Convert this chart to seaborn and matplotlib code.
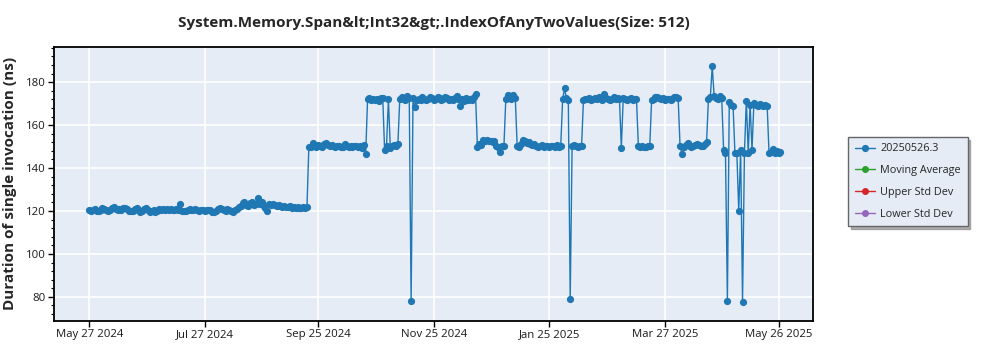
import matplotlib
matplotlib.use("Agg")
import matplotlib.pyplot as plt
import matplotlib.dates as mdates
from matplotlib.ticker import MultipleLocator
import numpy as np
import pandas as pd
import seaborn as sns

TITLE = "System.Memory.Span&lt;Int32&gt;.IndexOfAnyTwoValues(Size: 512)"
Y_LABEL = "Duration of single invocation (ns)"
SERIES_NAMES = ["20250526.3", "Moving Average", "Upper Std Dev", "Lower Std Dev"]
SERIES_COLORS = ["#1f77b4", "#2ca02c", "#d62728", "#9467bd"]

FIRST_RUN = "2024-05-27"
X_TICKS = ["2024-05-27", "2024-07-27", "2024-09-25", "2024-11-25",
           "2025-01-25", "2025-03-27", "2025-05-26"]

# one benchmark result per day (ns), starting at FIRST_RUN
durations = [
    # late May - Sep 2024
    120.3, 120.1, 120.6, 120.9, 120.2, 119.8, 120.4, 121.3, 121.0, 120.5,
    120.2, 120.7, 121.2, 121.7, 120.9, 120.6, 121.1, 120.3, 121.5, 121.4,
    120.8, 120.2, 119.8, 120.1, 120.9, 121.3, 120.6, 119.7, 120.2, 121.0,
    121.2, 120.4, 119.6, 120.0, 120.3, 119.6, 120.2, 120.8, 120.5, 121.0,
    120.6, 120.9, 120.3, 121.0, 120.7, 120.4, 120.9, 120.6, 123.2, 120.2,
    120.0, 119.8, 120.5, 121.0, 120.7, 120.3, 120.9, 120.6, 120.2, 120.5,
    120.3, 119.9, 120.4, 120.7, 120.5, 119.7, 119.4, 120.2, 120.8, 121.3,
    121.0, 120.6, 120.2, 120.9, 120.5, 120.1, 119.5, 120.3, 121.0, 121.7,
    122.4, 123.6, 124.1, 123.0, 122.3, 123.8, 124.2, 122.6, 123.5, 126.0,
    123.4, 124.0, 122.8, 121.6, 120.2, 123.2, 122.9, 123.1, 122.6, 122.4,
    122.8, 122.5, 122.1, 122.3, 122.0, 121.8, 122.2, 121.6, 121.9, 121.5,
    121.8, 121.3, 121.6, 121.7, 121.4, 122.0,
    # Sep 20 - Oct 2024
    150.0, 149.6, 151.8, 150.4, 149.8, 150.6, 150.2, 149.9, 151.0, 151.6,
    150.8, 150.3, 150.6, 150.1, 149.8, 150.2, 150.5, 150.0, 149.7, 151.2,
    150.4, 149.9, 150.3, 149.6, 150.1, 150.5, 149.8, 150.2, 149.5, 150.6,
    146.5,
    172.0, 172.6, 171.8, 172.3, 171.6, 172.1, 171.4, 172.5, 172.8,
    148.5, 150.2, 172.0, 149.5, 150.3, 150.8, 150.1, 151.0,
    172.2, 173.0, 172.4, 171.9, 173.6, 172.8,
    78.2,
    # Nov - Dec 2024
    172.5, 168.6, 171.8, 172.4, 171.6, 172.9, 172.3, 171.5, 172.0, 173.1,
    172.6, 171.7, 172.2, 173.0, 172.5, 171.8, 172.4, 173.2, 172.7, 171.9,
    172.3, 171.5, 172.8, 173.4, 172.1, 168.7, 172.0, 171.4, 172.6, 171.9,
    172.4, 171.7, 172.9, 174.4,
    150.0, 151.2, 150.6, 153.0, 152.6, 153.1, 152.8, 152.4, 152.0, 152.6,
    150.1, 149.6, 147.6, 150.5, 150.2,
    172.3, 174.0, 173.4, 172.2, 174.1, 172.6,
    # Jan 2025
    150.4, 150.0, 151.2, 153.3, 152.4, 151.8, 152.0, 151.2, 150.6, 151.0,
    150.3, 149.8, 150.2, 150.6, 149.9, 150.4, 150.1, 149.7, 150.5, 150.2,
    149.8, 150.6, 150.0, 150.3,
    172.0, 177.2, 172.5, 171.8,
    79.0,
    150.2, 150.8, 150.4, 149.9, 150.5, 150.1,
    # Feb - Mar 2025
    171.8, 172.4, 172.0, 172.6, 171.9, 172.3, 172.8, 172.1, 173.0, 172.5,
    171.8, 174.3, 172.6, 172.0, 171.5, 172.4, 172.9, 172.2, 172.6, 172.1,
    149.5,
    172.5, 172.0, 171.8, 172.3, 172.6, 171.9, 172.2, 172.0,
    150.2, 149.6, 150.4, 150.0, 149.8, 150.5, 150.1,
    171.8, 172.4, 172.9, 173.2, 172.6, 172.1, 172.5, 171.9, 172.3, 172.0,
    171.8, 172.4, 172.9, 173.1, 172.5,
    # Apr - May 2025
    150.4, 146.5, 149.8, 150.6, 151.6, 150.4, 149.6, 150.2, 150.8, 151.4,
    150.6, 150.1, 150.5, 151.0, 152.0,
    172.4, 173.0, 187.4, 173.6, 172.5, 172.1, 173.4, 172.8,
    148.5, 146.8, 78.3,
    170.6, 169.5, 168.8,
    146.8, 146.9, 120.0, 148.5, 77.8, 147.0, 171.4, 147.2,
    169.6, 148.5, 170.3, 169.4, 168.9, 169.8, 169.2, 168.7, 169.5, 169.0,
    146.8, 147.5, 148.9, 147.2, 147.8, 146.9, 147.3,
]

# statistics series (not computed for this run)
moving_average = []
upper_std_dev = []
lower_std_dev = []

run_dates = pd.date_range(FIRST_RUN, periods=len(durations), freq="D")
df = pd.DataFrame({"date": run_dates, "duration": durations})

sns.set_style("whitegrid", {
    "axes.facecolor": "#e5ecf6",
    "axes.edgecolor": "black",
    "grid.color": "white",
    "xtick.bottom": True,
    "ytick.left": True,
})
plt.rcParams["font.family"] = ["Open Sans", "DejaVu Sans"]

fig = plt.figure(figsize=(10, 3.5), dpi=100)
ax = fig.add_axes([0.054, 0.083, 0.759, 0.784])

sns.lineplot(data=df, x="date", y="duration", ax=ax, color=SERIES_COLORS[0],
             linewidth=1.0, marker="o", markersize=5.2,
             markeredgewidth=0, label=SERIES_NAMES[0], legend=False)

for name, color, values in zip(SERIES_NAMES[1:], SERIES_COLORS[1:],
                               [moving_average, upper_std_dev, lower_std_dev]):
    ax.plot(run_dates[:len(values)], values, color=color, marker="o",
            markersize=4, linewidth=1.0, label=name)

ax.set_xlim(pd.Timestamp("2024-05-08 10:00"), pd.Timestamp("2025-06-13 05:00"))
ax.set_ylim(68.8, 196.6)
ax.set_xticks(pd.to_datetime(X_TICKS))
ax.xaxis.set_major_formatter(mdates.DateFormatter("%b %d %Y"))
ax.yaxis.set_major_locator(MultipleLocator(20))
ax.yaxis.set_minor_locator(MultipleLocator(4))
ax.tick_params(axis="both", which="major", labelsize=8.2, length=4,
               width=1, color="black", pad=2, labelcolor="#1a1a1a")
ax.tick_params(axis="y", which="minor", length=2, width=0.8, color="black", left=True)
ax.grid(True, which="major", color="white", linewidth=1.2)
ax.grid(False, which="minor")
for sp in ax.spines.values():
    sp.set_linewidth(1.3)
    sp.set_color("black")

ax.set_xlabel("")
ax.set_ylabel(Y_LABEL, fontsize=11, fontweight="bold", labelpad=6)
ax.set_title(TITLE, fontsize=11, fontweight="bold", pad=14)

handles, labels = ax.get_legend_handles_labels()
leg = fig.legend(handles, labels, loc="upper left", bbox_to_anchor=(0.848, 0.609),
                 fontsize=7.8, frameon=True, fancybox=False,
                 shadow={"color": "0.55", "alpha": 0.7},
                 edgecolor="#666666", framealpha=1, handlelength=1.9,
                 labelspacing=1.0, borderpad=0.6, handletextpad=0.5,
                 borderaxespad=0)
leg.get_frame().set_linewidth(1.0)

fig.savefig("out.png", dpi=100)
